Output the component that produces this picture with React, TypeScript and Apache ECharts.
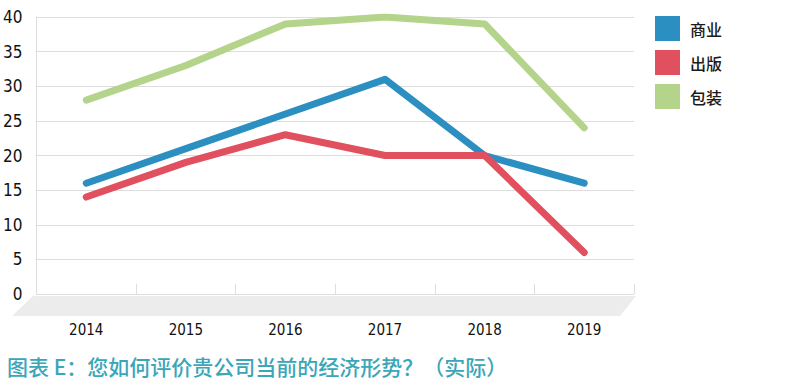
import React, { useEffect, useRef } from "react";
import * as echarts from "echarts";

const categories = ["2014", "2015", "2016", "2017", "2018", "2019"];
const commerce = [16, 21, 26, 31, 20, 16];
const publishing = [14, 19, 23, 20, 20, 6];
const packaging = [28, 33, 39, 40, 39, 24];
const seriesNames = ["商业", "出版", "包装"];
const colors = ["#2b8fc1", "#e0505f", "#b3d48a"];
const titleText = "图表 E：您如何评价贵公司当前的经济形势？（实际）";

export default function App() {
  const ref = useRef<HTMLDivElement>(null);
  useEffect(() => {
    document.body.style.margin = "0";
    const chart = echarts.init(ref.current!, null, { renderer: "svg" });
    const narrow = "'DejaVu Sans Condensed', 'Liberation Sans Narrow', sans-serif";
    const mk = (name: string, data: number[], color: string) => ({
      name,
      type: "line",
      data,
      symbol: "none",
      itemStyle: { color },
      lineStyle: { color, width: 7, cap: "round", join: "round" },
    });
    chart.setOption({
      animation: false,
      backgroundColor: "#ffffff",
      grid: { left: 33, right: 174, top: 17, bottom: 92 },
      legend: {
        orient: "vertical",
        left: 655,
        top: 16,
        padding: 0,
        icon: "rect",
        itemWidth: 25,
        itemHeight: 25,
        itemGap: 9,
        textStyle: {
          fontSize: 16,
          color: "#1a1a1a",
          fontWeight: 500,
          padding: [0, 0, 0, 5],
          fontFamily: "'Noto Sans CJK SC', sans-serif",
        },
        data: seriesNames,
      },
      graphic: [
        {
          type: "polygon",
          z: 0,
          shape: { points: [[33, 296], [636, 296], [620, 316], [12, 316]] },
          style: { fill: "#ececec" },
        },
        {
          type: "text",
          left: 7,
          top: 355,
          style: {
            text: titleText,
            fill: "#3aa6b8",
            fontSize: 21,
            fontWeight: 500,
            fontFamily: "'Noto Sans CJK SC', sans-serif",
          },
        },
      ],
      xAxis: {
        type: "category",
        data: categories,
        boundaryGap: true,
        axisLine: { show: false },
        axisTick: { show: true, inside: true, length: 10, lineStyle: { color: "#dddddd" } },
        axisLabel: { margin: 28, fontSize: 15, color: "#111", fontFamily: narrow },
        splitLine: { show: false },
      },
      yAxis: {
        type: "value",
        min: 0,
        max: 40,
        interval: 5,
        axisLine: { show: true, lineStyle: { color: "#dddddd" } },
        axisTick: { show: false },
        axisLabel: { margin: 14, fontSize: 17, color: "#111", fontFamily: narrow },
        splitLine: { lineStyle: { color: "#dddddd" } },
      },
      series: [
        mk(seriesNames[0], commerce, colors[0]),
        mk(seriesNames[1], publishing, colors[1]),
        mk(seriesNames[2], packaging, colors[2]),
      ],
    });
    return () => chart.dispose();
  }, []);
  return <div ref={ref} style={{ width: 808, height: 386 }} />;
}
